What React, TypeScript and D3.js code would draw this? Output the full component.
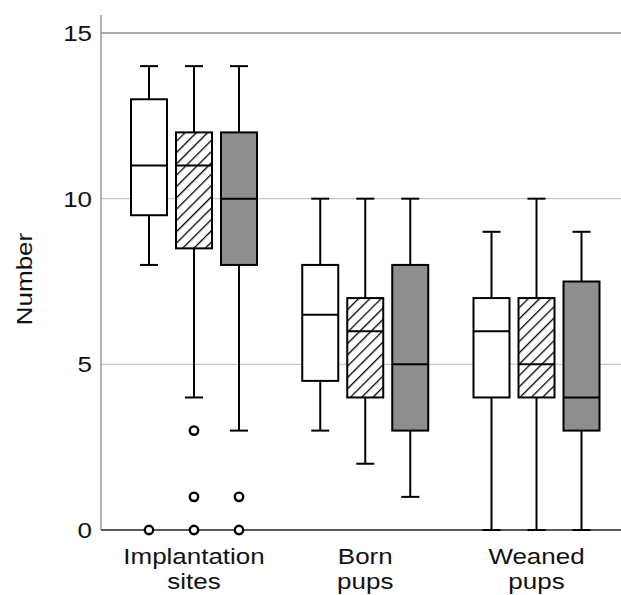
import React from 'react';
import * as d3 from 'd3';

// groups along the x axis, three boxes each (open, hatched, grey)
const categories = ['Implantation sites', 'Born pups', 'Weaned pups'];
const categoryLines = [['Implantation', 'sites'], ['Born', 'pups'], ['Weaned', 'pups']];
const treatments = ['open', 'hatched', 'grey'];

// [low whisker, Q1, median, Q3, high whisker] per group, per treatment
const implantationStats = [[8, 9.5, 11, 13, 14], [4, 8.5, 11, 12, 14], [3, 8, 10, 12, 14]];
const bornStats = [[3, 4.5, 6.5, 8, 10], [2, 4, 6, 7, 10], [1, 3, 5, 8, 10]];
const weanedStats = [[0, 4, 6, 7, 9], [0, 4, 5, 7, 10], [0, 3, 4, 7.5, 9]];

const implantationOutliers = [[0], [3, 1, 0], [1, 0]];
const bornOutliers = [[], [], []];
const weanedOutliers = [[], [], []];

const yTicks = [0, 5, 10, 15];

const allStats = [implantationStats, bornStats, weanedStats];
const allOutliers = [implantationOutliers, bornOutliers, weanedOutliers];

export default function App() {
  const width = 621, height = 595;
  const left = 101, right = 621, top = 15, bottom = 530;

  const y = d3.scaleLinear().domain([0, 15]).range([bottom, 33]);
  const x0 = d3.scalePoint().domain(categories).range([194, 536.5]);
  const x1 = d3.scalePoint().domain(treatments).range([-45, 45]);
  const bw = 36;

  const font = '"Liberation Sans", Arial, sans-serif';
  const fills: Record<string, string> = { open: '#fff', hatched: 'url(#hatch)', grey: '#8e8e8e' };
  // reference type is a little wider than Arial
  const sx = 1.18;

  return (
    <svg width={width} height={height} style={{ position: 'absolute', left: 0, top: 0, background: '#fff' }}>
      <defs>
        <pattern id="hatch" patternUnits="userSpaceOnUse" width={8} height={8} patternTransform="rotate(45)">
          <rect width={8} height={8} fill="#fff" />
          <line x1={0} y1={0} x2={0} y2={8} stroke="#000" strokeWidth={2.6} />
        </pattern>
      </defs>

      {/* gridlines */}
      {yTicks.filter(t => t > 0).map(t => (
        <line key={'g' + t} x1={left} x2={right} y1={y(t)} y2={y(t)}
          stroke={t === 15 ? '#aaa' : '#c8c8c8'} strokeWidth={t === 15 ? 2 : 1.2} />
      ))}

      {/* y axis */}
      <line x1={left} x2={left} y1={top} y2={bottom} stroke="#999" strokeWidth={1.5} />
      <line x1={left} x2={right} y1={bottom} y2={bottom} stroke="#222" strokeWidth={1.5} />
      {yTicks.map(t => (
        <text key={'t' + t} transform={`translate(92,${y(t)}) scale(${sx},1)`} dy="0.36em" textAnchor="end"
          fontFamily={font} fontSize={22} fill="#111">{t}</text>
      ))}
      <text transform={`translate(32,279) rotate(-90) scale(${sx},1)`} textAnchor="middle" fontFamily={font} fontSize={22} fill="#111">Number</text>

      {/* boxes */}
      {categories.map((c, gi) => (
        <g key={c}>
          {treatments.map((tr, ti) => {
            const [lo, q1, med, q3, hi] = allStats[gi][ti];
            const cx = (x0(c) as number) + (x1(tr) as number);
            const bx = cx - bw / 2;
            const cap = 9;
            return (
              <g key={tr} stroke="#000" strokeWidth={2}>
                <line x1={cx} x2={cx} y1={y(hi)} y2={y(q3)} />
                <line x1={cx} x2={cx} y1={y(q1)} y2={y(lo)} />
                <line x1={cx - cap} x2={cx + cap} y1={y(hi)} y2={y(hi)} />
                <line x1={cx - cap} x2={cx + cap} y1={y(lo)} y2={y(lo)} />
                <rect x={bx} y={y(q3)} width={bw} height={y(q1) - y(q3)} fill={fills[tr]} />
                <line x1={bx} x2={bx + bw} y1={y(med)} y2={y(med)} />
                {allOutliers[gi][ti].map((o, oi) => (
                  <circle key={oi} cx={cx} cy={y(o)} r={4.2} fill="#fff" strokeWidth={2.4} />
                ))}
              </g>
            );
          })}
          {categoryLines[gi].map((ln, li) => (
            <text key={li} transform={`translate(${x0(c) as number},${564 + li * 25}) scale(${sx},1)`}
              textAnchor="middle" fontFamily={font} fontSize={22} fill="#111">{ln}</text>
          ))}
        </g>
      ))}
    </svg>
  );
}
